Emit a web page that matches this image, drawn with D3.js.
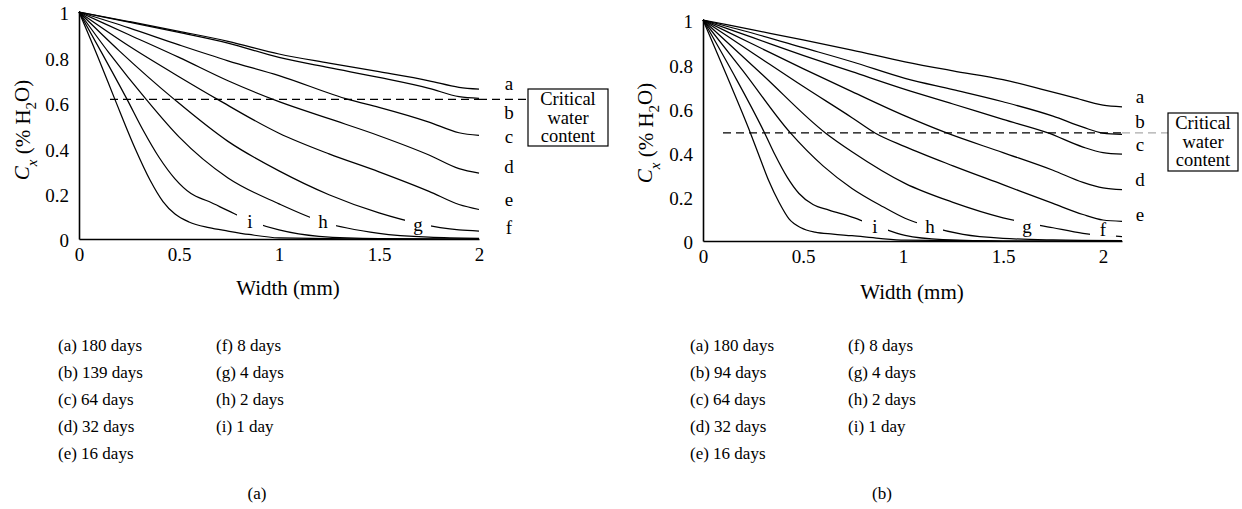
<!DOCTYPE html>
<html lang="en">
<head>
  <meta charset="UTF-8">
  <title>Water content profiles</title>
  <script src="https://d3js.org/d3.v7.min.js"></script>
</head>
<body style="margin:0; background:#fff;">
  <div id="chart"></div>
  <script>
// ---- data ----
const xTicks = [0, 0.5, 1, 1.5, 2];
const yTicks = [0, 0.2, 0.4, 0.6, 0.8, 1];
const curveKeys = ["a", "b", "c", "d", "e", "f", "g", "h", "i"];

// panel (a): [width mm, Cx]
const curvesA = {
  a: [[0,1],[0.25,0.958],[0.5,0.915],[0.745,0.871],[1,0.815],[1.25,0.775],[1.5,0.737],[1.75,0.697],[1.9,0.668],[2,0.66]],
  b: [[0,1],[0.25,0.955],[0.5,0.91],[0.745,0.863],[1,0.8],[1.25,0.755],[1.5,0.712],[1.75,0.664],[1.9,0.627],[2,0.62]],
  c: [[0,1],[0.25,0.93],[0.5,0.855],[0.745,0.785],[1,0.72],[1.35,0.614],[1.5,0.58],[1.75,0.515],[1.9,0.468],[2,0.456]],
  d: [[0,1],[0.25,0.9],[0.5,0.8],[0.745,0.697],[1,0.605],[1.25,0.53],[1.5,0.455],[1.75,0.37],[1.9,0.31],[2,0.29]],
  e: [[0,1],[0.25,0.85],[0.5,0.715],[0.695,0.614],[1,0.466],[1.25,0.375],[1.5,0.296],[1.75,0.21],[1.9,0.152],[2,0.13]],
  f: [[0,1],[0.2,0.83],[0.478,0.614],[0.745,0.43],[1,0.3],[1.25,0.195],[1.5,0.115],[1.7,0.068],[1.9,0.04],[2,0.035]],
  g: [[0,1],[0.15,0.82],[0.337,0.614],[0.5,0.45],[0.745,0.269],[1,0.155],[1.22,0.075],[1.5,0.025],[1.75,0.008],[2,0.003]],
  h: [[0,1],[0.12,0.81],[0.241,0.614],[0.32,0.48],[0.4,0.36],[0.48,0.265],[0.56,0.2],[0.65,0.165],[0.745,0.125],[0.855,0.08],[1,0.04],[1.2,0.012],[1.5,0.002],[2,0]],
  i: [[0,1],[0.1,0.79],[0.18,0.614],[0.28,0.4],[0.355,0.26],[0.42,0.165],[0.48,0.11],[0.55,0.075],[0.65,0.05],[0.745,0.035],[0.85,0.02],[1,0.005],[1.5,0],[2,0]]
};

// panel (b)
const curvesB = {
  a: [[0,1],[0.25,0.955],[0.5,0.91],[0.745,0.864],[1.01,0.811],[1.25,0.77],[1.5,0.73],[1.71,0.683],[1.85,0.65],[2,0.615],[2.095,0.607]],
  b: [[0,1],[0.25,0.94],[0.5,0.875],[0.745,0.811],[1.01,0.736],[1.25,0.685],[1.5,0.63],[1.75,0.565],[1.9,0.515],[2,0.488],[2.095,0.482]],
  c: [[0,1],[0.25,0.92],[0.5,0.84],[0.745,0.766],[1.01,0.686],[1.25,0.62],[1.5,0.55],[1.725,0.489],[1.9,0.425],[2,0.4],[2.095,0.393]],
  d: [[0,1],[0.25,0.89],[0.5,0.78],[0.745,0.676],[1.01,0.566],[1.218,0.489],[1.5,0.4],[1.75,0.32],[1.9,0.265],[2,0.24],[2.095,0.232]],
  e: [[0,1],[0.25,0.85],[0.5,0.7],[0.745,0.558],[0.86,0.489],[1.01,0.427],[1.25,0.34],[1.5,0.255],[1.75,0.17],[1.9,0.12],[2,0.095],[2.095,0.089]],
  f: [[0,1],[0.3,0.75],[0.612,0.489],[0.745,0.404],[1.01,0.261],[1.25,0.175],[1.5,0.105],[1.75,0.06],[1.9,0.035],[2,0.025],[2.095,0.02]],
  g: [[0,1],[0.2,0.77],[0.437,0.489],[0.6,0.34],[0.745,0.238],[0.9,0.155],[1.01,0.103],[1.135,0.065],[1.3,0.03],[1.5,0.012],[1.75,0.005],[2.095,0.002]],
  h: [[0,1],[0.15,0.76],[0.308,0.489],[0.36,0.39],[0.42,0.29],[0.48,0.215],[0.55,0.165],[0.63,0.14],[0.745,0.108],[0.86,0.07],[1.01,0.025],[1.2,0.006],[1.5,0],[2.095,0]],
  i: [[0,1],[0.12,0.745],[0.237,0.489],[0.287,0.37],[0.33,0.27],[0.38,0.175],[0.43,0.1],[0.49,0.06],[0.56,0.04],[0.65,0.031],[0.745,0.024],[0.88,0.012],[1.01,0.004],[1.5,0],[2.095,0]]
};

const daysA = ["180 days", "139 days", "64 days", "32 days", "16 days", "8 days", "4 days", "2 days", "1 day"];
const daysB = ["180 days", "94 days", "64 days", "32 days", "16 days", "8 days", "4 days", "2 days", "1 day"];

const criticalA = 0.615;
const criticalB = 0.489;

// where each curve letter sits, in data units
const labelPosA = { a:[2.15,0.683], b:[2.15,0.555], c:[2.15,0.449], d:[2.15,0.317], e:[2.15,0.172], f:[2.15,0.048], g:[1.695,0.064], h:[1.22,0.075], i:[0.855,0.075] };
const labelPosB = { a:[2.185,0.652], b:[2.185,0.538], c:[2.185,0.434], d:[2.185,0.276], e:[2.185,0.118], f:[2.0,0.05], g:[1.62,0.063], h:[1.135,0.063], i:[0.86,0.063] };

const FONT = "Liberation Serif, DejaVu Serif, serif";

const svg = d3.select("#chart").append("svg")
  .attr("width", 1242).attr("height", 509)
  .attr("font-family", FONT);

function txt(sel) {
  return sel.append("text").attr("font-family", FONT).attr("fill", "#000");
}

function drawPanel(o) {
  const x = d3.scaleLinear().domain([0, o.xMax]).range([o.x0, o.x0 + o.xMax * 200]);
  const y = d3.scaleLinear().domain([0, 1]).range([o.y0, o.y1]);
  const g = svg.append("g");

  // critical water content line
  g.append("line")
    .attr("x1", x(o.dashFrom)).attr("x2", x(o.xMax))
    .attr("y1", y(o.crit)).attr("y2", y(o.crit))
    .attr("stroke", "#000").attr("stroke-width", 1.2).attr("stroke-dasharray", "8,5");
  g.append("line")
    .attr("x1", x(o.xMax)).attr("x2", o.boxX)
    .attr("y1", y(o.crit)).attr("y2", y(o.crit))
    .attr("stroke", o.tailColor).attr("stroke-width", 1.2).attr("stroke-dasharray", "8,5");

  // curves
  const line = d3.line().x(d => x(d[0])).y(d => y(d[1])).curve(d3.curveMonotoneX);
  curveKeys.forEach(k => {
    g.append("path").attr("d", line(o.curves[k]))
      .attr("fill", "none").attr("stroke", "#000").attr("stroke-width", 1.25);
  });

  // axes
  const xAxis = d3.axisBottom(x).tickValues(xTicks).tickSize(0).tickPadding(9).tickFormat(d => String(d));
  const yAxis = d3.axisLeft(y).tickValues(yTicks).tickSize(0).tickPadding(10).tickFormat(d => String(d));
  const gx = g.append("g").attr("transform", `translate(0,${o.y0})`).call(xAxis);
  const gy = g.append("g").attr("transform", `translate(${o.x0},0)`).call(yAxis);
  [gx, gy].forEach(a => {
    a.attr("font-family", FONT);
    a.select(".domain").attr("stroke", "#000").attr("stroke-width", 1.6);
    a.selectAll("text").attr("font-family", FONT).attr("font-size", 19).attr("fill", "#000");
  });
  gy.selectAll("text").attr("dy", "0.42em");

  // curve letters (the in-plot ones get a white patch that breaks the curves)
  curveKeys.forEach(k => {
    const p = o.labels[k];
    const px = x(p[0]), py = y(p[1]);
    if (p[0] <= o.xMax) {
      g.append("rect").attr("x", px - 13).attr("y", py - 8).attr("width", 26).attr("height", 15).attr("fill", "#fff");
    }
    txt(g).attr("x", px).attr("y", py).attr("dy", "0.32em")
      .attr("text-anchor", "middle").attr("font-size", 19).text(k);
  });

  // critical water content box
  g.append("rect").attr("x", o.boxX).attr("y", o.boxY).attr("width", o.boxW).attr("height", o.boxH)
    .attr("fill", "#fff").attr("stroke", "#000").attr("stroke-width", 1.2);
  ["Critical", "water", "content"].forEach((t, i) => {
    txt(g).attr("x", o.boxX + o.boxW / 2).attr("y", o.boxY + 10 + i * 18.5).attr("dy", "0.35em")
      .attr("text-anchor", "middle").attr("font-size", 18.5).text(t);
  });

  // axis titles
  txt(g).attr("x", o.xTitleX).attr("y", o.xTitleY).attr("dy", "0.35em")
    .attr("text-anchor", "middle").attr("font-size", 21).text("Width (mm)");
  const yt = txt(g).attr("transform", `translate(${o.yTitleX},${o.yTitleY}) rotate(-90)`)
    .attr("dy", "0.35em").attr("text-anchor", "middle").attr("font-size", 21);
  yt.append("tspan").attr("font-style", "italic").text("C");
  yt.append("tspan").attr("font-style", "italic").attr("font-size", 15).attr("dy", "0.5em").text("x");
  yt.append("tspan").attr("dy", "-0.35em").text(" (% H");
  yt.append("tspan").attr("font-size", 15).attr("dy", "0.4em").text("2");
  yt.append("tspan").attr("dy", "-0.3em").text("O)");

  // legend
  curveKeys.forEach((k, i) => {
    const col = i < 5 ? 0 : 1, row = i < 5 ? i : i - 5;
    txt(g).attr("x", o.legX + col * 158).attr("y", 345 + row * 27).attr("dy", "0.35em")
      .attr("font-size", 17).text(`(${k}) ${o.days[i]}`);
  });
  txt(g).attr("x", o.capX).attr("y", 493).attr("dy", "0.35em")
    .attr("text-anchor", "middle").attr("font-size", 17).text(o.caption);
}

drawPanel({
  curves: curvesA, labels: labelPosA, days: daysA, crit: criticalA, caption: "(a)",
  x0: 79, y0: 239, y1: 12, xMax: 2, dashFrom: 0.155, tailColor: "#000",
  boxX: 528, boxY: 89, boxW: 80, boxH: 57,
  xTitleX: 288, xTitleY: 288, yTitleX: 22, yTitleY: 130,
  legX: 58, capX: 257
});
drawPanel({
  curves: curvesB, labels: labelPosB, days: daysB, crit: criticalB, caption: "(b)",
  x0: 703, y0: 241, y1: 20, xMax: 2.095, dashFrom: 0.1, tailColor: "#aaa",
  boxX: 1168, boxY: 113, boxW: 70, boxH: 58,
  xTitleX: 912, xTitleY: 292, yTitleX: 645, yTitleY: 133,
  legX: 690, capX: 882
});
  </script>
</body>
</html>
